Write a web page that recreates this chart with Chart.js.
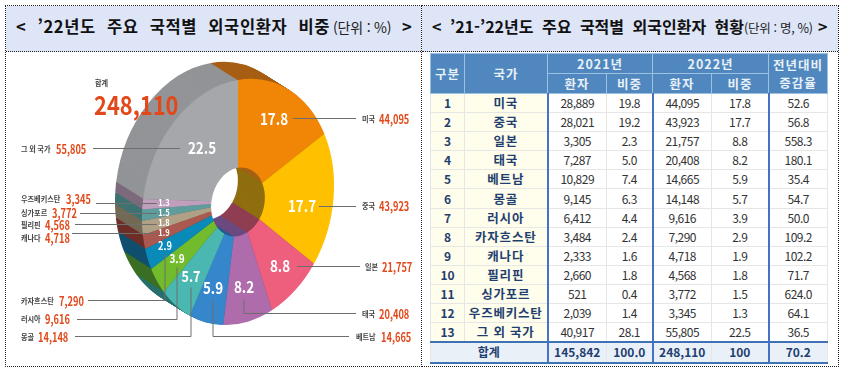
<!DOCTYPE html>
<html lang="ko">
<head>
<meta charset="utf-8">
<script src="https://cdn.jsdelivr.net/npm/chart.js@4"></script>
<style>
html, body { margin: 0; padding: 0; background: #fff; }
body { position: relative; width: 843px; height: 372px; overflow: hidden; font-family: "Noto Sans CJK KR", "Noto Sans", sans-serif; }
.box { position: absolute; top: 5px; height: 362px; box-sizing: border-box; border: 1px dotted #222; }
.head { position: absolute; left: 0; right: 0; top: 0; height: 45px; background: #dde5f6; border-bottom: 1px dotted #222; white-space: nowrap; }
.head span { position: absolute; top: 8px; line-height: 24px; font-weight: 700; color: #111; }
.head small { font-weight: 400; font-size: 13.5px; color: #222; letter-spacing: -0.2px; }
#left { left: 5px; width: 417px; }
#right { left: 421px; width: 418px; }
#pie { position: absolute; left: 0; top: 0; }
table { position: absolute; left: 430px; top: 53px; width: 397px; border-collapse: collapse; table-layout: fixed; font-size: 12px; color: #333; text-align: center; }
td, th { padding: 0; overflow: hidden; white-space: nowrap; line-height: 14px; }
thead th { background: #4f87be; color: #e8f0f8; font-size: 12.5px; font-weight: 700; letter-spacing: 1px; border: 1px solid #9cc0e0; height: 19px; }
tbody td { height: 18.1px; border: 1px solid #e6e6e6; letter-spacing: -0.5px; }
tbody td.rank { background: #fffdeb; color: #1f3f70; font-weight: 700; letter-spacing: 0; }
tbody td.name { background: #fffdeb; color: #1f3f70; font-weight: 700; font-size: 12.5px; letter-spacing: 0.8px; }
td.blue { border-left: 2px solid #4472c4; }
tr.sum td { background: #e9f0f8; color: #1f3f70; font-weight: 700; height: 18.5px; border-top: 2px solid #3f72b5; border-bottom: 2px solid #3f72b5; letter-spacing: 0; }
</style>
</head>
<body>
<div class="box" id="left"><div class="head">
  <span style="left:10px;font-size:16.5px;word-spacing:6px;letter-spacing:0.6px">&lt; ’22년도 주요 국적별 외국인환자 비중<small style="word-spacing:0;margin-left:3px;font-size:14px">(단위 : %)</small></span>
  <span style="left:396px;font-size:16.5px">&gt;</span>
</div></div>
<div class="box" id="right"><div class="head">
  <span style="left:10px;font-size:16px;word-spacing:4px">&lt; ’21-’22년도 주요 국적별 외국인환자 현황<small style="word-spacing:0;font-size:12.5px;letter-spacing:-0.3px">(단위 : 명, %)</small></span>
  <span style="left:396px;font-size:16px">&gt;</span>
</div></div>
<canvas id="pie" width="422" height="372"></canvas>
<table id="tbl">
  <colgroup>
    <col style="width:34px"><col style="width:83px"><col style="width:59px"><col style="width:46px"><col style="width:59px"><col style="width:57px"><col style="width:59px">
  </colgroup>
  <thead>
    <tr><th rowspan="2">구분</th><th rowspan="2">국가</th><th colspan="2">2021년</th><th colspan="2">2022년</th><th rowspan="2" style="line-height:18px">전년대비<br>증감율</th></tr>
    <tr><th>환자</th><th>비중</th><th>환자</th><th>비중</th></tr>
  </thead>
  <tbody></tbody>
</table>
<script>
const countries = ["미국", "중국", "일본", "태국", "베트남", "몽골", "러시아", "카자흐스탄", "캐나다", "필리핀", "싱가포르", "우즈베키스탄", "그 외 국가"];
const patients2021 = ["28,889", "28,021", "3,305", "7,287", "10,829", "9,145", "6,412", "3,484", "2,333", "2,660", "521", "2,039", "40,917"];
const share2021 = ["19.8", "19.2", "2.3", "5.0", "7.4", "6.3", "4.4", "2.4", "1.6", "1.8", "0.4", "1.4", "28.1"];
const patients2022 = [44095, 43923, 21757, 20408, 14665, 14148, 9616, 7290, 4718, 4568, 3772, 3345, 55805];
const share2022 = ["17.8", "17.7", "8.8", "8.2", "5.9", "5.7", "3.9", "2.9", "1.9", "1.8", "1.5", "1.3", "22.5"];
const growth = ["52.6", "56.8", "558.3", "180.1", "35.4", "54.7", "50.0", "109.2", "102.2", "71.7", "624.0", "64.1", "36.5"];
const totals = ["145,842", "100.0", "248,110", "100", "70.2"];

const faceColors = ["#f18505", "#ffc000", "#ee5f7d", "#ae6cac", "#3686cc", "#4ab8b0", "#72bb2c", "#0a8ab8", "#a9594f", "#b0a186", "#5f9c9c", "#bf9fbc", "#a5a7aa"];
const wallColors = ["#a65f14", "#8f6e10", "#8f3d50", "#6b4a80", "#1f5c90", "#27706d", "#3b6f24", "#114f6e", "#6e2e28", "#736a55", "#3f7272", "#7d6a7d", "#929497"];

// page position of each label: name x, value x, y, then the leader line points
const labelSpots = [
  [362, 379, 119, [[293, 118], [356, 118]]],
  [362, 379, 206, [[319, 206], [356, 206]]],
  [365, 382, 267, [[297, 266], [360, 266]]],
  [362, 379, 314, [[244, 299], [244, 313], [356, 313]]],
  [356, 381, 337, [[213, 300], [213, 336], [349, 336]]],
  [21, 38, 337, [[191, 287], [191, 336], [75, 336]]],
  [21, 45, 319, [[177, 267], [177, 319], [77, 319]]],
  [21, 59, 301, [[165, 254], [165, 300], [88, 300]]],
  [21, 45, 238, [[157, 233], [72, 233]]],
  [21, 45, 225, [[157, 224], [75, 224]]],
  [21, 52, 213, [[157, 213], [80, 213]]],
  [21, 66, 199, [[157, 203], [96, 203]]],
  [21, 56, 149, [[180, 148], [93, 148]]]
];
const shareSpots = [[274, 119, 16], [302, 206, 16], [280, 266, 16], [244, 287, 16], [213, 288, 16], [191, 276, 15], [177, 258, 12], [165, 246, 11], [164, 233, 9], [164, 223, 9], [164, 213, 9], [164, 203, 9], [202, 148, 16]];

const fontName = '"Noto Sans CJK KR", "Noto Sans", sans-serif';
const wallX = -27, wallY = -17, wallSteps = 30;

// Build the table rows
const tbody = document.querySelector("#tbl tbody");
countries.forEach((name, i) => {
  const tr = document.createElement("tr");
  tr.innerHTML = `<td class="rank">${i + 1}</td><td class="name">${name}</td><td class="blue">${patients2021[i]}</td><td>${share2021[i]}</td><td class="blue">${patients2022[i].toLocaleString("en-US")}</td><td>${share2022[i]}</td><td class="blue">${growth[i]}</td>`;
  tbody.appendChild(tr);
});
const sumRow = document.createElement("tr");
sumRow.className = "sum";
sumRow.innerHTML = `<td colspan="2">합계</td>` + totals.map((t, i) => `<td${i % 2 === 0 || i === 4 ? ' class="blue"' : ""}>${t}</td>`).join("");
tbody.appendChild(sumRow);

// Squash and shear the round doughnut into the tilted ellipse
const tilt = (ctx, arc, dx, dy) => {
  ctx.translate(arc.x + dx, arc.y + dy);
  ctx.transform(0.787, -0.134, 0, 1, 0, 0);
  ctx.translate(-arc.x, -arc.y);
};

const tiltPlugin = {
  id: "tilt",
  beforeDatasetsDraw(chart) {
    const ctx = chart.ctx;
    const arcs = chart.getDatasetMeta(0).data;
    // side wall: the same arcs in darker colours, far layer first
    for (let s = wallSteps; s >= 1; s--) {
      ctx.save();
      tilt(ctx, arcs[0], wallX * s / wallSteps, wallY * s / wallSteps);
      arcs.forEach((arc, i) => {
        const saved = arc.options;
        arc.options = { ...saved, backgroundColor: wallColors[i], borderWidth: 0 };
        arc.draw(ctx);
        arc.options = saved;
      });
      ctx.restore();
    }
    ctx.save();
    tilt(ctx, arcs[0], 0, 0);
  },
  afterDatasetsDraw(chart) {
    chart.ctx.restore();
  }
};

const putText = (ctx, text, x, y, font, color, squeeze, align) => {
  ctx.save();
  ctx.translate(x, y);
  ctx.scale(squeeze, 1);
  ctx.font = font;
  ctx.fillStyle = color;
  ctx.textAlign = align;
  ctx.textBaseline = "middle";
  ctx.fillText(text, 0, 0);
  ctx.restore();
};

const labelPlugin = {
  id: "labels",
  afterDraw(chart) {
    const ctx = chart.ctx;
    labelSpots.forEach((spot, i) => {
      ctx.beginPath();
      spot[3].forEach((p, k) => (k === 0 ? ctx.moveTo(p[0], p[1] + 0.5) : ctx.lineTo(p[0], p[1] + 0.5)));
      ctx.strokeStyle = "#6e6e6e";
      ctx.lineWidth = 1;
      ctx.stroke();
      putText(ctx, countries[i], spot[0], spot[2], `700 7.5px ${fontName}`, "#444", 0.95, "left");
      putText(ctx, patients2022[i].toLocaleString("en-US"), spot[1], spot[2], `700 12.5px ${fontName}`, "#e2491a", 0.74, "left");
    });
    shareSpots.forEach((spot, i) => {
      putText(ctx, share2022[i], spot[0], spot[1], `700 ${spot[2]}px ${fontName}`, "#fff", 0.84, "center");
    });
    putText(ctx, "합계", 95, 83, `700 7.5px ${fontName}`, "#444", 0.95, "left");
    putText(ctx, totals[2], 94, 105, `700 26px ${fontName}`, "#e2491a", 0.84, "left");
  }
};

new Chart(document.getElementById("pie"), {
  type: "doughnut",
  data: {
    labels: countries,
    datasets: [{
      data: patients2022,
      backgroundColor: faceColors,
      borderWidth: 0,
      clip: false
    }]
  },
  options: {
    responsive: false,
    animation: false,
    radius: 122,
    cutout: "28%",
    layout: { padding: { left: 54, top: 32 } },
    plugins: { legend: { display: false }, tooltip: { enabled: false } }
  },
  plugins: [tiltPlugin, labelPlugin]
});
</script>
</body>
</html>
